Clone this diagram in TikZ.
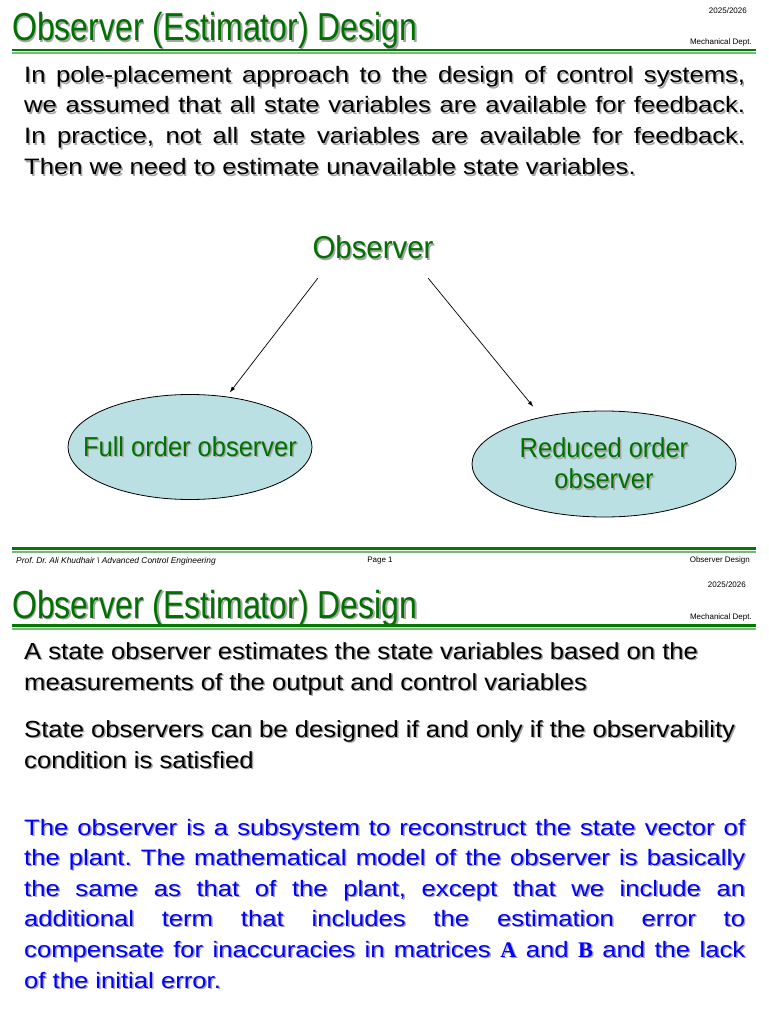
\documentclass[tikz,border=0pt]{standalone}
\usepackage{fontspec}
\setmainfont{Liberation Sans}
\newfontfamily\titlefont[FakeStretch=0.82]{Liberation Sans}
\newfontfamily\ovalfont[FakeStretch=0.93]{Liberation Sans}
\newfontfamily\bodyfont[FakeStretch=1.15]{Liberation Sans}
\newfontfamily\slidefont[FakeStretch=1.10]{Liberation Sans}
\newfontfamily\matfont{Liberation Serif}
\usetikzlibrary{shapes.geometric,arrows.meta}
\frenchspacing

\newlength{\du}
\setlength{\du}{1pt}

\definecolor{titlegreen}{RGB}{0,112,0}
\definecolor{rulegreen}{RGB}{0,122,0}
\definecolor{rulelight}{RGB}{120,185,120}
\definecolor{ovalfill}{RGB}{187,224,227}
\definecolor{shadowgray}{RGB}{165,165,165}
\definecolor{textblue}{RGB}{0,0,255}

% text with a grey drop shadow
\newcommand{\shadowed}[2][1.5pt]{\leavevmode\rlap{\kern#1\raisebox{-#1}{\color{shadowgray}#2}}#2}
% justified line of the slide body
\newcommand{\jline}[1]{\makebox[721\du][s]{#1}}

\tikzset{
  slidetitle/.style={anchor=base west, inner sep=0pt, text=titlegreen,
    font=\titlefont\fontsize{39}{39}\selectfont},
  smallnote/.style={inner sep=0pt, font=\fontsize{8}{8}\selectfont},
  footnote/.style={inner sep=0pt, font=\itshape\fontsize{8.4}{8.4}\selectfont},
  bodyline/.style={anchor=base west, inner sep=0pt,
    font=\bodyfont\fontsize{22.3}{22.3}\selectfont},
  slideline/.style={anchor=base west, inner sep=0pt,
    font=\slidefont\fontsize{23.3}{23.3}\selectfont},
  branch/.style={inner sep=0pt, text=titlegreen,
    font=\ovalfont\fontsize{31.6}{31.6}\selectfont},
  oval/.style={ellipse, draw=black, line width=0.8\du, fill=ovalfill, inner sep=0pt,
    text=titlegreen, align=center, font=\ovalfont\fontsize{27.4}{31}\selectfont},
  link/.style={draw=black, line width=0.7\du, -{Latex[length=6pt,width=4pt]}},
  darkrule/.style={draw=rulegreen, line width=2.6\du},
  lightrule/.style={draw=rulelight, line width=2\du}
}

\begin{document}
\begin{tikzpicture}
\pgftransformxscale{1.000000}
\pgftransformyscale{-1.000000}
\fill[white] (0\du,0\du) rectangle (768\du,1024\du);
\useasboundingbox (0\du,0\du) rectangle (768\du,1024\du);

% page 1 head
\node[slidetitle] (title1) at (12\du,41\du) {\shadowed{Observer (Estimator) Design}};
\node[smallnote, anchor=east] (year1) at (747\du,11\du) {2025/2026};
\node[smallnote, anchor=east] (dept1) at (752\du,42\du) {Mechanical Dept.};
\draw[darkrule] (12\du,50\du) -- (756\du,50\du);
\draw[lightrule] (12\du,53\du) -- (756\du,53\du);

% intro text
\node[bodyline] (intro1) at (24\du,83\du) {\shadowed{\jline{In pole-placement approach to the design of control systems,}}};
\node[bodyline] (intro2) at (24\du,113\du) {\shadowed{\jline{we assumed that all state variables are available for feedback.}}};
\node[bodyline] (intro3) at (24\du,144\du) {\shadowed{\jline{In practice, not all state variables are available for feedback.}}};
\node[bodyline] (intro4) at (24\du,175\du) {\shadowed{Then we need to estimate unavailable state variables.}};

% observer tree
\node[branch, minimum width=110\du, minimum height=60\du] (obs) at (373\du,248\du) {\makebox[0pt]{\shadowed{Observer}}};
\node[oval, minimum width=244\du, minimum height=105\du] (full) at (190\du,447\du) {\makebox[0pt]{\shadowed{Full order observer}}};
\node[oval, minimum width=264\du, minimum height=106\du] (reduced) at (604\du,464\du) {\shadowed{Reduced order}\\\shadowed{observer}};
\draw[link, shorten >=5\du] (obs.south west) -- (full.54.5);
\draw[link, shorten >=13\du] (obs.south east) -- (reduced.143);

% page 1 foot
\draw[darkrule] (12\du,548.5\du) -- (756\du,548.5\du);
\draw[lightrule] (12\du,551.5\du) -- (756\du,551.5\du);
\node[footnote, anchor=west] (author) at (16\du,561\du) {Prof. Dr. Ali Khudhair \textbackslash{} Advanced Control Engineering};
\node[smallnote] (page1) at (380\du,561\du) {Page 1};
\node[smallnote, anchor=east] (topic1) at (750\du,560\du) {Observer Design};

% page 2 head
\node[smallnote, anchor=east] (year2) at (746\du,585\du) {2025/2026};
\node[slidetitle] (title2) at (12\du,618\du) {\shadowed{Observer (Estimator) Design}};
\node[smallnote, anchor=east] (dept2) at (752\du,617\du) {Mechanical Dept.};
\draw[darkrule] (12\du,625.5\du) -- (756\du,625.5\du);
\draw[lightrule] (12\du,628.5\du) -- (756\du,628.5\du);

% page 2 text
\node[slideline] (def1) at (24\du,659\du) {\shadowed{A state observer estimates the state variables based on the}};
\node[slideline] (def2) at (24\du,690\du) {\shadowed{measurements of the output and control variables}};
\node[slideline] (cond1) at (24\du,737\du) {\shadowed{State observers can be designed if and only if the observability}};
\node[slideline] (cond2) at (24\du,768\du) {\shadowed{condition is satisfied}};

\node[bodyline, text=textblue] (blue1) at (24\du,835\du) {\shadowed{\jline{The observer is a subsystem to reconstruct the state vector of}}};
\node[bodyline, text=textblue] (blue2) at (24\du,865\du) {\shadowed{\jline{the plant. The mathematical model of the observer is basically}}};
\node[bodyline, text=textblue] (blue3) at (24\du,896\du) {\shadowed{\jline{the same as that of the plant, except that we include an}}};
\node[bodyline, text=textblue] (blue4) at (24\du,926\du) {\shadowed{\jline{additional term that includes the estimation error to}}};
\node[bodyline, text=textblue] (blue5) at (24\du,957\du) {\shadowed{\jline{compensate for inaccuracies in matrices {\matfont\bfseries A} and {\matfont\bfseries B} and the lack}}};
\node[bodyline, text=textblue] (blue6) at (24\du,988\du) {\shadowed{of the initial error.}};
\end{tikzpicture}
\end{document}
